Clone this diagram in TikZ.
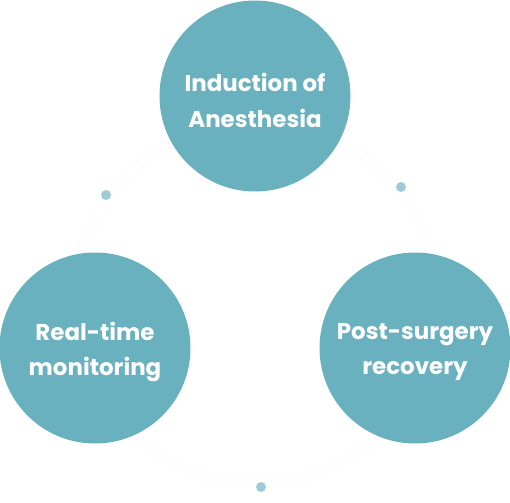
\documentclass[tikz,border=0pt]{standalone}
\usepackage{fontspec}
\setmainfont{Poppins}
\usetikzlibrary{positioning}
\definecolor{stagecol}{HTML}{6AB1C0}
\definecolor{dotcol}{HTML}{9FCBD6}
\definecolor{ringcol}{HTML}{F4F7F8}

\tikzset{
	stage/.style={circle, fill=stagecol, minimum size=191bp, inner sep=0pt, text=white, align=center, font=\fontsize{23}{36}\selectfont\bfseries},
	marker/.style={circle, fill=dotcol, minimum size=10bp, inner sep=0pt}
}

\begin{document}
\begin{tikzpicture}[x=1bp, y=-1bp]
	%%%%% START %%%%%
	\useasboundingbox (0, 0) rectangle (510, 503);
	
	% faint ring behind the stages
	\draw[ringcol, line width=0.8bp, dash pattern=on 2bp off 2bp] (256.5, 302) circle (185);
	\draw[ringcol, line width=0.8bp, dash pattern=on 2bp off 3bp] (256.5, 302) circle (177);
	
	\node[stage] (induction) at (255, 96) {};
	\node[stage] (monitoring) at (95, 348) {};
	\node[stage] (recovery) at (415, 348) {};
	
	% labels, set a little below the centres
	\node[stage, fill=none, minimum size=0pt] at ([yshift=-4bp]induction.center) {Induction of\\Anesthesia};
	\node[stage, fill=none, minimum size=0pt] at ([yshift=-4bp]monitoring.center) {Real-time\\monitoring};
	\node[stage, fill=none, minimum size=0pt] at ([yshift=-4bp]recovery.center) {Post-surgery\\recovery};
	
	\node[marker] (dotleft) at (106, 195) {};
	\node[marker] (dotright) at (401, 187) {};
	\node[marker] (dotbottom) at (261, 487) {};
	%%%%% END %%%%%
\end{tikzpicture}
\end{document}
